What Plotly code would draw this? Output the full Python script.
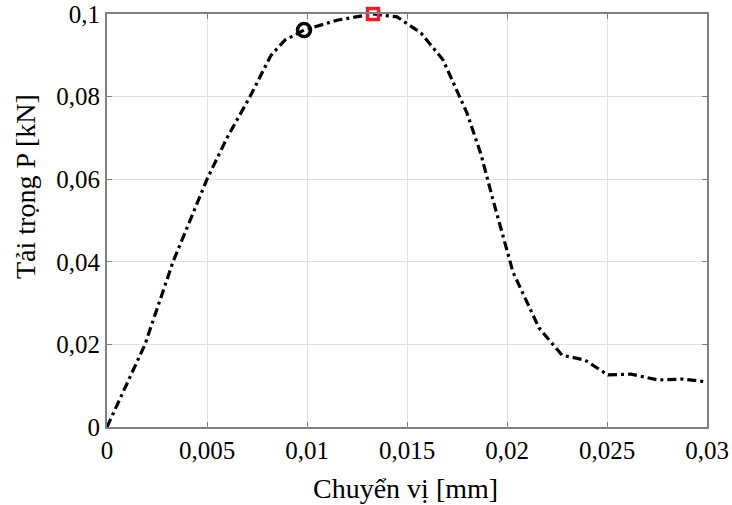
import plotly.graph_objects as go

disp = [0, 0.0019, 0.0033, 0.005, 0.006, 0.00715, 0.0082, 0.0089, 0.00985,
        0.0115, 0.0133, 0.0145, 0.0157, 0.0168, 0.018, 0.0187, 0.0193, 0.0198,
        0.0203, 0.0216, 0.02275, 0.0239, 0.02505, 0.0262, 0.02755, 0.0288, 0.03]
load = [0, 0.02, 0.04, 0.06, 0.07, 0.08, 0.09, 0.0937, 0.0961,
        0.0985, 0.1, 0.0993, 0.0954, 0.0889, 0.076, 0.066, 0.055, 0.046,
        0.0375, 0.024, 0.0174, 0.0162, 0.0126, 0.0128, 0.0114, 0.0116, 0.0109]
circle_pt = ([0.00985], [0.0961])
square_pt = ([0.0133], [0.1])
x_ticks = [0, 0.005, 0.01, 0.015, 0.02, 0.025, 0.03]
x_tick_labels = ["0", "0,005", "0,01", "0,015", "0,02", "0,025", "0,03"]
y_ticks = [0, 0.02, 0.04, 0.06, 0.08, 0.1]
y_tick_labels = ["0", "0,02", "0,04", "0,06", "0,08", "0,1"]
x_title = "Chuyển vị [mm]"
y_title = "Tải trọng P [kN]"

font_family = "Liberation Serif"

fig = go.Figure()
fig.add_trace(go.Scatter(x=disp, y=load, mode="lines",
                         line=dict(color="black", width=3.2, dash="9px,4px,3px,4px"),
                         showlegend=False, cliponaxis=False))
fig.add_trace(go.Scatter(x=circle_pt[0], y=circle_pt[1], mode="markers",
                         marker=dict(symbol="circle-open", size=13, color="black",
                                     line=dict(width=3.5, color="black")),
                         showlegend=False, cliponaxis=False))
fig.add_trace(go.Scatter(x=square_pt[0], y=square_pt[1], mode="markers",
                         marker=dict(symbol="square-open", size=11, color="#e8202a",
                                     line=dict(width=3.5, color="#e8202a")),
                         showlegend=False, cliponaxis=False))

axis_common = dict(showgrid=True, gridcolor="#e0e0e0", gridwidth=1,
                   showline=True, linecolor="#808080", linewidth=2, mirror="ticks",
                   ticks="inside", ticklen=5, tickcolor="#808080", tickwidth=1,
                   zeroline=False, automargin=False, ticklabeloverflow="allow",
                   tickfont=dict(family=font_family, size=25, color="black"))

fig.update_layout(
    width=732, height=505,
    margin=dict(l=107, r=25, t=14, b=78),
    paper_bgcolor="white", plot_bgcolor="white",
    font=dict(family=font_family, color="black"),
    xaxis=dict(range=[0, 0.03], tickvals=x_ticks, ticktext=x_tick_labels, **axis_common),
    yaxis=dict(range=[0, 0.1], tickvals=y_ticks, ticktext=y_tick_labels, **axis_common),
    annotations=[
        dict(text=x_title, xref="paper", yref="paper", x=0.4967, y=-0.150,
             xanchor="center", yanchor="middle", showarrow=False,
             font=dict(family=font_family, size=28, color="black")),
        dict(text=y_title, xref="paper", yref="paper", x=-0.1367, y=0.5835,
             xanchor="center", yanchor="middle", showarrow=False, textangle=-90,
             font=dict(family=font_family, size=28, color="black")),
    ],
)

fig.write_html("out.html", config={"displayModeBar": False},
               post_script="document.body.style.margin='0';")
